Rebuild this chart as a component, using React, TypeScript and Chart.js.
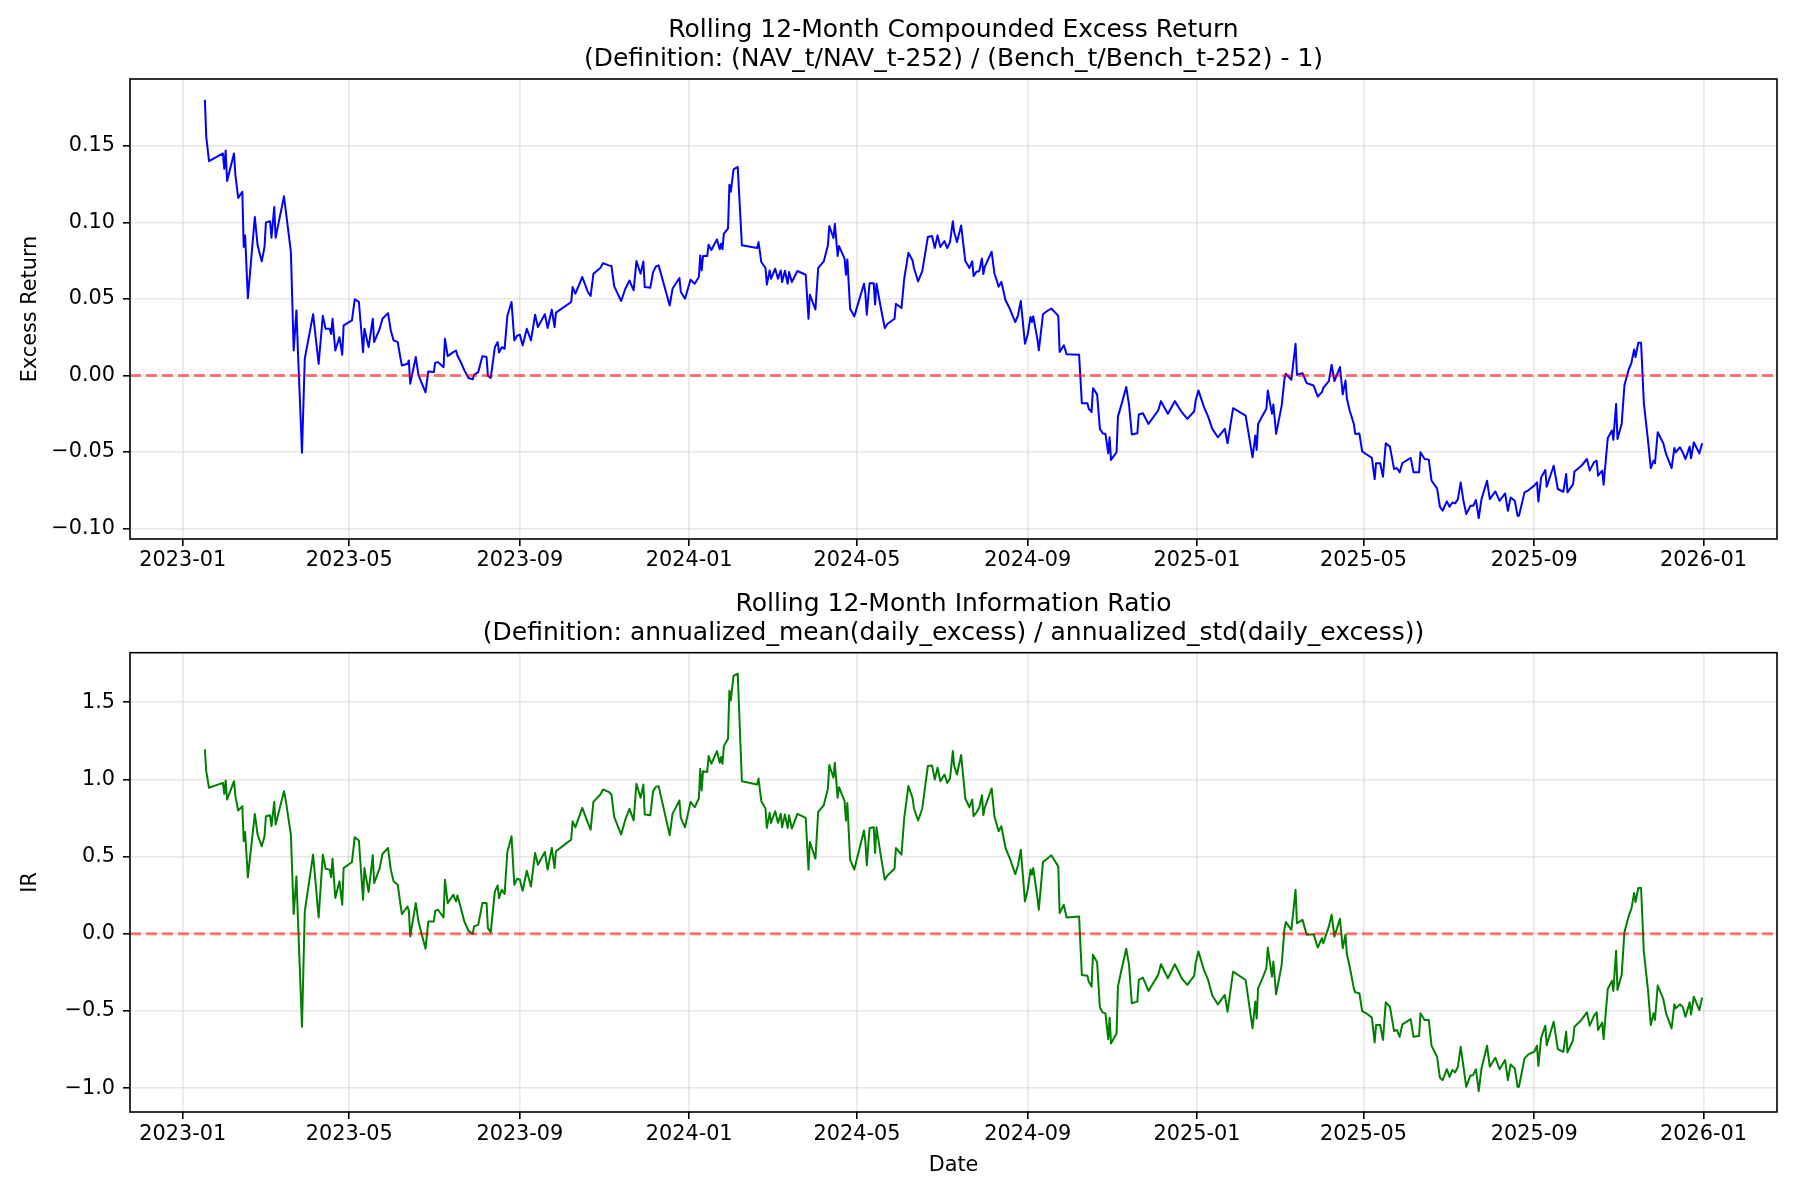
import React, { useEffect, useRef } from 'react';
import { Chart, registerables } from 'chart.js';

Chart.register(...registerables);

// trading dates shared by both rolling series
const dates = [
  '2023-01-17', '2023-01-18', '2023-01-20', '2023-01-30', '2023-01-31',
  '2023-02-01', '2023-02-02', '2023-02-07', '2023-02-08', '2023-02-10', '2023-02-13', '2023-02-14', '2023-02-15', '2023-02-17', '2023-02-22', '2023-02-24', '2023-02-27',
  '2023-03-01', '2023-03-02', '2023-03-05', '2023-03-06', '2023-03-08', '2023-03-09', '2023-03-15', '2023-03-16', '2023-03-20', '2023-03-22', '2023-03-24', '2023-03-25', '2023-03-28', '2023-03-30',
  '2023-04-05', '2023-04-09', '2023-04-12', '2023-04-14', '2023-04-17', '2023-04-18', '2023-04-19', '2023-04-21', '2023-04-24', '2023-04-26', '2023-04-27',
  '2023-05-03', '2023-05-05', '2023-05-08', '2023-05-11', '2023-05-12', '2023-05-15', '2023-05-18', '2023-05-19', '2023-05-23', '2023-05-25', '2023-05-29', '2023-05-31',
  '2023-06-02', '2023-06-05', '2023-06-07', '2023-06-08', '2023-06-12', '2023-06-13', '2023-06-14', '2023-06-18', '2023-06-20', '2023-06-25', '2023-06-27',
  '2023-07-01', '2023-07-02', '2023-07-04', '2023-07-08', '2023-07-09', '2023-07-11', '2023-07-15', '2023-07-17', '2023-07-18', '2023-07-21', '2023-07-23', '2023-07-26', '2023-07-29', '2023-07-30',
  '2023-08-02', '2023-08-05', '2023-08-08', '2023-08-09', '2023-08-11', '2023-08-14', '2023-08-16', '2023-08-17', '2023-08-19', '2023-08-21', '2023-08-23', '2023-08-26', '2023-08-28', '2023-08-30',
  '2023-09-01', '2023-09-03', '2023-09-06', '2023-09-09', '2023-09-12', '2023-09-14', '2023-09-19', '2023-09-21', '2023-09-24', '2023-09-26', '2023-09-27',
  '2023-10-08', '2023-10-09', '2023-10-11', '2023-10-16', '2023-10-20', '2023-10-22', '2023-10-24', '2023-10-29', '2023-10-31',
  '2023-11-04', '2023-11-06', '2023-11-08', '2023-11-13', '2023-11-16', '2023-11-19', '2023-11-22', '2023-11-24', '2023-11-27', '2023-11-29', '2023-11-30',
  '2023-12-04', '2023-12-06', '2023-12-08', '2023-12-10', '2023-12-18', '2023-12-20', '2023-12-25', '2023-12-26', '2023-12-29',
  '2024-01-02', '2024-01-05', '2024-01-08', '2024-01-09', '2024-01-10', '2024-01-11', '2024-01-14', '2024-01-15', '2024-01-17', '2024-01-21', '2024-01-23', '2024-01-24', '2024-01-25', '2024-01-26', '2024-01-29', '2024-01-30', '2024-01-31',
  '2024-02-02', '2024-02-05', '2024-02-08', '2024-02-19', '2024-02-20', '2024-02-22', '2024-02-25', '2024-02-26', '2024-02-28', '2024-02-29',
  '2024-03-03', '2024-03-05', '2024-03-07', '2024-03-08', '2024-03-10', '2024-03-12', '2024-03-13', '2024-03-15', '2024-03-19', '2024-03-25', '2024-03-27', '2024-03-28',
  '2024-04-01', '2024-04-03', '2024-04-07', '2024-04-10', '2024-04-11', '2024-04-14', '2024-04-15', '2024-04-17', '2024-04-18', '2024-04-22', '2024-04-23', '2024-04-24', '2024-04-26', '2024-04-29',
  '2024-05-06', '2024-05-07', '2024-05-08', '2024-05-10', '2024-05-13', '2024-05-14', '2024-05-15', '2024-05-18', '2024-05-21', '2024-05-23', '2024-05-28', '2024-05-29',
  '2024-06-02', '2024-06-04', '2024-06-07', '2024-06-10', '2024-06-11', '2024-06-14', '2024-06-17', '2024-06-21', '2024-06-24', '2024-06-26', '2024-06-28', '2024-06-30',
  '2024-07-03', '2024-07-05', '2024-07-07', '2024-07-09', '2024-07-10', '2024-07-12', '2024-07-15', '2024-07-18', '2024-07-21', '2024-07-23', '2024-07-24', '2024-07-26', '2024-07-28', '2024-07-30', '2024-07-31',
  '2024-08-01', '2024-08-06', '2024-08-08', '2024-08-10', '2024-08-11', '2024-08-13', '2024-08-16', '2024-08-19', '2024-08-23', '2024-08-25', '2024-08-27', '2024-08-30',
  '2024-09-01', '2024-09-03', '2024-09-04', '2024-09-05', '2024-09-08', '2024-09-09', '2024-09-12', '2024-09-15', '2024-09-18', '2024-09-23', '2024-09-24', '2024-09-27', '2024-09-29',
  '2024-10-08', '2024-10-10', '2024-10-14', '2024-10-15', '2024-10-17', '2024-10-18', '2024-10-21', '2024-10-23', '2024-10-25', '2024-10-27', '2024-10-29', '2024-10-30', '2024-10-31',
  '2024-11-04', '2024-11-05', '2024-11-07', '2024-11-11', '2024-11-13', '2024-11-15', '2024-11-19', '2024-11-20', '2024-11-23', '2024-11-27',
  '2024-12-04', '2024-12-06', '2024-12-11', '2024-12-16', '2024-12-21', '2024-12-25', '2024-12-30', '2024-12-31',
  '2025-01-02', '2025-01-06', '2025-01-09', '2025-01-12', '2025-01-16', '2025-01-21', '2025-01-23', '2025-01-27',
  '2025-02-05', '2025-02-10', '2025-02-12', '2025-02-13', '2025-02-14', '2025-02-17', '2025-02-20', '2025-02-21', '2025-02-24', '2025-02-25', '2025-02-27',
  '2025-03-03', '2025-03-05', '2025-03-06', '2025-03-10', '2025-03-13', '2025-03-14', '2025-03-18', '2025-03-21', '2025-03-26', '2025-03-29',
  '2025-04-01', '2025-04-02', '2025-04-06', '2025-04-08', '2025-04-10', '2025-04-14', '2025-04-16', '2025-04-18', '2025-04-19', '2025-04-21', '2025-04-24', '2025-04-25', '2025-04-28', '2025-04-30',
  '2025-05-03', '2025-05-07', '2025-05-09', '2025-05-10', '2025-05-13', '2025-05-15', '2025-05-17', '2025-05-20', '2025-05-23', '2025-05-25', '2025-05-27', '2025-05-29',
  '2025-06-04', '2025-06-06', '2025-06-10', '2025-06-11', '2025-06-14', '2025-06-17', '2025-06-19', '2025-06-23', '2025-06-25', '2025-06-27', '2025-06-30',
  '2025-07-02', '2025-07-04', '2025-07-06', '2025-07-08', '2025-07-10', '2025-07-12', '2025-07-14', '2025-07-17', '2025-07-19', '2025-07-21', '2025-07-23', '2025-07-25', '2025-07-29', '2025-07-31',
  '2025-08-04', '2025-08-07', '2025-08-11', '2025-08-13', '2025-08-15', '2025-08-18', '2025-08-20', '2025-08-21', '2025-08-25', '2025-08-28',
  '2025-09-01', '2025-09-03', '2025-09-04', '2025-09-06', '2025-09-09', '2025-09-10', '2025-09-15', '2025-09-18', '2025-09-22', '2025-09-24', '2025-09-25', '2025-09-29', '2025-09-30',
  '2025-10-05', '2025-10-09', '2025-10-11', '2025-10-14', '2025-10-16', '2025-10-17', '2025-10-20', '2025-10-21', '2025-10-24', '2025-10-27', '2025-10-28', '2025-10-30', '2025-10-31',
  '2025-11-03', '2025-11-05', '2025-11-08', '2025-11-10', '2025-11-12', '2025-11-13', '2025-11-15', '2025-11-17', '2025-11-19', '2025-11-22', '2025-11-24', '2025-11-26', '2025-11-27', '2025-11-29',
  '2025-12-03', '2025-12-05', '2025-12-09', '2025-12-11', '2025-12-12', '2025-12-15', '2025-12-17', '2025-12-19', '2025-12-22', '2025-12-23', '2025-12-25', '2025-12-29', '2025-12-31',
];

// (NAV_t/NAV_t-252) / (Bench_t/Bench_t-252) - 1
const excessReturn = [
  0.180, 0.156, 0.140, 0.145, 0.135,
  0.147, 0.127, 0.145, 0.131, 0.116, 0.120, 0.084, 0.0915, 0.0505, 0.1035, 0.085, 0.0745,
  0.084, 0.100, 0.1007, 0.090, 0.110, 0.090, 0.117, 0.110, 0.0806, 0.0163, 0.0425, 0.0174, -0.0505, 0.011,
  0.040, 0.0076, 0.039, 0.0305, 0.0305, 0.027, 0.037, 0.0163, 0.025, 0.0135, 0.0327,
  0.036, 0.0497, 0.048, 0.0152, 0.0305, 0.0185, 0.037, 0.0218, 0.0305, 0.037, 0.0407, 0.0294,
  0.0229, 0.0218, 0.011, 0.0065, 0.0076, 0.0098, -0.0054, 0.012, 0.0, -0.011, 0.0026,
  0.0022, 0.0083, 0.0087, 0.0054, 0.024, 0.0126, 0.0152, 0.0163, 0.013, 0.0076, 0.0033, -0.0017, -0.0026, 0.0004,
  0.0022, 0.0126, 0.012, -0.0004, -0.0017, 0.0185, 0.0218, 0.015, 0.0185, 0.0174, 0.039, 0.048, 0.0229, 0.026,
  0.0266, 0.0196, 0.0305, 0.0229, 0.0397, 0.0316, 0.040, 0.031, 0.043, 0.0316, 0.041,
  0.048, 0.0577, 0.0534, 0.0643, 0.0545, 0.0519, 0.0664, 0.0702, 0.0734,
  0.0719, 0.0715, 0.0582, 0.0486, 0.0566, 0.062, 0.0556, 0.0747, 0.0664, 0.0745, 0.0577,
  0.0573, 0.0675, 0.0712, 0.0719, 0.0457, 0.0566, 0.0636, 0.0545, 0.0501,
  0.0625, 0.0599, 0.0643, 0.0784, 0.0686, 0.078, 0.078, 0.0854, 0.082, 0.0889, 0.0824, 0.086, 0.0824, 0.0926, 0.0959, 0.1246, 0.120,
  0.1346, 0.1362, 0.085, 0.0832, 0.0871, 0.0741, 0.0702, 0.0593, 0.0686, 0.0632,
  0.0697, 0.0632, 0.0686, 0.061, 0.0684, 0.0599, 0.0675, 0.061, 0.0682, 0.0658, 0.037, 0.0527,
  0.0431, 0.0702, 0.0745, 0.085, 0.0976, 0.0898, 0.0991, 0.078, 0.0845, 0.0763, 0.0658, 0.0758, 0.0436, 0.0386,
  0.0599, 0.0534, 0.0397, 0.0603, 0.0603, 0.0464, 0.0599, 0.0447, 0.0309, 0.0338, 0.037, 0.0468,
  0.044, 0.0632, 0.0802, 0.0751, 0.0702, 0.0614, 0.0682, 0.0904, 0.0911, 0.0832, 0.0915, 0.0839,
  0.0878, 0.0832, 0.0871, 0.1007, 0.0937, 0.0871, 0.098, 0.0747, 0.0702, 0.0745, 0.0649, 0.0677, 0.0681, 0.0764, 0.0662,
  0.0709, 0.0808, 0.0666, 0.0611, 0.0579, 0.0611, 0.0491, 0.0437, 0.0349, 0.0393, 0.0487, 0.0207,
  0.0269, 0.0382, 0.0349, 0.0386, 0.0234, 0.0164, 0.040, 0.0421, 0.0437, 0.0389, 0.0153, 0.0197, 0.0138,
  0.0135, -0.0181, -0.0181, -0.0218, -0.024, -0.0083, -0.0124, -0.0349, -0.0378, -0.0382, -0.0509, -0.0404, -0.0552,
  -0.0502, -0.0269, -0.0207, -0.0076, -0.0192, -0.0386, -0.0378, -0.0255, -0.0247, -0.0317,
  -0.0229, -0.0168, -0.0251, -0.0168, -0.024, -0.0284, -0.0234, -0.0164,
  -0.0098, -0.0207, -0.0269, -0.0349, -0.0404, -0.0349, -0.0443, -0.0214,
  -0.0262, -0.0535, -0.0393, -0.0486, -0.0317, -0.0266, -0.0218, -0.0098, -0.0251, -0.019, -0.0382,
  -0.0197, -0.0022, 0.0011, -0.0028, 0.0207, 0.0004, 0.0015, -0.005, -0.0066, -0.0138,
  -0.0109, -0.0081, -0.0037, 0.007, -0.0037, 0.0055, -0.0124, -0.0033, -0.0153, -0.0229, -0.0317, -0.0382, -0.038, -0.0496,
  -0.0515, -0.0539, -0.0677, -0.0574, -0.0574, -0.0662, -0.0443, -0.0465, -0.0611, -0.0605, -0.0633, -0.0572,
  -0.0539, -0.0633, -0.0633, -0.0502, -0.0546, -0.055, -0.0688, -0.0738, -0.0858, -0.0884, -0.0823,
  -0.0858, -0.083, -0.0836, -0.0808, -0.0699, -0.0819, -0.0906, -0.0852, -0.0852, -0.0814, -0.0932, -0.0808, -0.0688, -0.0808,
  -0.0758, -0.0819, -0.0771, -0.0884, -0.0797, -0.0819, -0.0917, -0.0917, -0.0764, -0.0749,
  -0.072, -0.0699, -0.0823, -0.0666, -0.0618, -0.0727, -0.059, -0.0742, -0.076, -0.0644, -0.0764, -0.071, -0.0627,
  -0.059, -0.0546, -0.0622, -0.0568, -0.0557, -0.0655, -0.0622, -0.0714, -0.0408, -0.036, -0.0421, -0.0186, -0.0415,
  -0.0317, -0.0066, 0.0037, 0.0081, 0.017, 0.012, 0.0214, 0.0214, -0.0181, -0.0426, -0.0605, -0.0557, -0.0574, -0.0371,
  -0.0443, -0.0513, -0.0605, -0.0474, -0.0502, -0.0469, -0.0502, -0.0546, -0.0465, -0.0541, -0.0437, -0.0509, -0.0443,
];

// annualized_mean(daily_excess) / annualized_std(daily_excess)
const infoRatio = [
  1.195, 1.054, 0.946, 0.978, 0.907,
  0.994, 0.870, 0.989, 0.892, 0.799, 0.827, 0.600, 0.660, 0.366, 0.777, 0.643, 0.567,
  0.632, 0.762, 0.768, 0.697, 0.855, 0.708, 0.924, 0.881, 0.643, 0.128, 0.372, 0.113, -0.602, 0.145,
  0.513, 0.106, 0.513, 0.422, 0.416, 0.366, 0.487, 0.232, 0.340, 0.188, 0.426,
  0.465, 0.626, 0.604, 0.221, 0.426, 0.271, 0.509, 0.329, 0.426, 0.517, 0.556, 0.416,
  0.340, 0.318, 0.188, 0.128, 0.177, 0.149, -0.017, 0.199, 0.076, -0.097, 0.080,
  0.080, 0.149, 0.156, 0.106, 0.351, 0.199, 0.253, 0.210, 0.249, 0.149, 0.080, 0.019, 0.000, 0.048,
  0.058, 0.199, 0.199, 0.037, 0.011, 0.275, 0.314, 0.232, 0.286, 0.258, 0.530, 0.632, 0.318, 0.357,
  0.351, 0.279, 0.409, 0.307, 0.524, 0.448, 0.530, 0.416, 0.556, 0.426, 0.535,
  0.610, 0.729, 0.690, 0.816, 0.719, 0.675, 0.855, 0.903, 0.935,
  0.920, 0.903, 0.758, 0.643, 0.740, 0.810, 0.734, 0.972, 0.881, 0.968, 0.773,
  0.768, 0.924, 0.952, 0.957, 0.639, 0.777, 0.864, 0.751, 0.690,
  0.855, 0.820, 0.877, 1.069, 0.929, 1.054, 1.048, 1.152, 1.102, 1.184, 1.108, 1.145, 1.102, 1.216, 1.264, 1.574, 1.513,
  1.671, 1.686, 0.989, 0.968, 1.006, 0.859, 0.812, 0.686, 0.784, 0.719,
  0.794, 0.719, 0.777, 0.690, 0.773, 0.686, 0.768, 0.682, 0.777, 0.751, 0.416, 0.595,
  0.487, 0.790, 0.833, 0.942, 1.093, 1.011, 1.108, 0.881, 0.950, 0.859, 0.734, 0.848, 0.481, 0.416,
  0.669, 0.595, 0.444, 0.686, 0.690, 0.524, 0.690, 0.513, 0.351, 0.379, 0.422, 0.556,
  0.513, 0.751, 0.957, 0.881, 0.812, 0.734, 0.812, 1.087, 1.091, 1.000, 1.076, 0.989,
  1.032, 0.978, 1.006, 1.184, 1.087, 1.032, 1.158, 0.877, 0.820, 0.870, 0.762, 0.786, 0.816, 0.898, 0.768,
  0.816, 0.942, 0.762, 0.697, 0.665, 0.697, 0.556, 0.491, 0.387, 0.444, 0.545, 0.210,
  0.286, 0.416, 0.383, 0.426, 0.232, 0.156, 0.465, 0.487, 0.509, 0.437, 0.134, 0.188, 0.106,
  0.113, -0.266, -0.271, -0.310, -0.342, -0.136, -0.184, -0.478, -0.509, -0.515, -0.682, -0.543, -0.710,
  -0.645, -0.342, -0.255, -0.097, -0.201, -0.450, -0.439, -0.299, -0.284, -0.370,
  -0.266, -0.197, -0.288, -0.197, -0.288, -0.331, -0.271, -0.190,
  -0.115, -0.234, -0.299, -0.400, -0.457, -0.396, -0.504, -0.245,
  -0.299, -0.613, -0.439, -0.548, -0.353, -0.292, -0.223, -0.089, -0.277, -0.180, -0.392,
  -0.201, 0.032, 0.076, 0.026, 0.286, 0.069, 0.091, -0.006, -0.002, -0.089,
  -0.028, -0.061, 0.048, 0.123, -0.017, 0.097, -0.093, -0.006, -0.132, -0.212, -0.353, -0.379, -0.385, -0.500,
  -0.515, -0.543, -0.703, -0.591, -0.591, -0.688, -0.444, -0.472, -0.630, -0.623, -0.667, -0.586,
  -0.552, -0.667, -0.662, -0.515, -0.558, -0.558, -0.725, -0.797, -0.931, -0.948, -0.877,
  -0.927, -0.883, -0.898, -0.861, -0.732, -0.861, -0.991, -0.919, -0.914, -0.877, -1.019, -0.872, -0.725, -0.861,
  -0.803, -0.877, -0.818, -0.948, -0.846, -0.872, -0.991, -0.991, -0.807, -0.779,
  -0.764, -0.725, -0.855, -0.673, -0.595, -0.721, -0.569, -0.747, -0.764, -0.634, -0.768, -0.688, -0.602,
  -0.558, -0.509, -0.595, -0.532, -0.509, -0.623, -0.574, -0.682, -0.357, -0.305, -0.370, -0.110, -0.364,
  -0.266, 0.011, 0.113, 0.162, 0.264, 0.206, 0.297, 0.297, -0.119, -0.364, -0.591, -0.515, -0.558, -0.335,
  -0.422, -0.515, -0.613, -0.457, -0.483, -0.457, -0.472, -0.537, -0.444, -0.522, -0.407, -0.494, -0.413,
];

const xTickLabels = ['2023-01', '2023-05', '2023-09', '2024-01', '2024-05', '2024-09', '2025-01', '2025-05', '2025-09', '2026-01'];
const excessTicks = [-0.10, -0.05, 0, 0.05, 0.10, 0.15];
const irTicks = [-1.0, -0.5, 0, 0.5, 1.0, 1.5];

const FONT = 'DejaVu Sans';
const DAY_MS = 86400000;
const ORIGIN = Date.parse('2023-01-01');
const toDay = (d: string) => (Date.parse(d) - ORIGIN) / DAY_MS;
const fmtMinus = (s: string) => s.replace('-', '\u2212');

const xDays = dates.map(toDay);
const xLo = Math.min(...xDays);
const xHi = Math.max(...xDays);
const xMargin = (xHi - xLo) * 0.05; // matplotlib default margins

// draws the 4-sided axes box like matplotlib spines
const framePlugin = {
  id: 'frame',
  afterDatasetsDraw(chart: any) {
    const { ctx, chartArea: a } = chart;
    ctx.save();
    ctx.strokeStyle = '#000';
    ctx.lineWidth = 1.6;
    ctx.strokeRect(a.left, a.top, a.right - a.left, a.bottom - a.top);
    ctx.restore();
  },
};

interface RollingChartProps {
  values: number[];
  color: string;
  title: string[];
  yLabel: string;
  yTicks: number[];
  decimals: number;
  height: number;
  titlePadding: { top: number; bottom: number };
  xAxisHeight: number;
  tickPadding: number;
  xLabel?: string;
}

const RollingChart: React.FC<RollingChartProps> = ({
  values, color, title, yLabel, yTicks, decimals, height, titlePadding, xAxisHeight, tickPadding, xLabel,
}) => {
  const canvasRef = useRef<HTMLCanvasElement>(null);

  useEffect(() => {
    if (!canvasRef.current) return;
    const lo = Math.min(...values);
    const hi = Math.max(...values);
    const yMargin = (hi - lo) * 0.05;
    const gridColor = 'rgba(176,176,176,0.3)';

    const chart = new Chart(canvasRef.current, {
      type: 'line',
      data: {
        datasets: [
          {
            // zero reference line (axhline)
            data: [{ x: xLo - xMargin, y: 0 }, { x: xHi + xMargin, y: 0 }],
            borderColor: 'rgba(255,0,0,0.5)',
            borderWidth: 3,
            borderDash: [11, 5],
            pointRadius: 0,
          },
          {
            data: xDays.map((x, i) => ({ x, y: values[i] })),
            borderColor: color,
            borderWidth: 2,
            borderJoinStyle: 'round',
            pointRadius: 0,
            tension: 0,
          },
        ],
      },
      options: {
        animation: false,
        responsive: false,
        events: [],
        layout: { padding: { left: 0, right: 23, top: 0, bottom: 0 } },
        plugins: {
          legend: { display: false },
          tooltip: { enabled: false },
          title: {
            display: true,
            text: title,
            fullSize: false,
            color: '#000',
            font: { family: FONT, size: 25, weight: 'normal', lineHeight: 1.15 },
            padding: titlePadding,
          },
        },
        scales: {
          x: {
            type: 'linear',
            min: xLo - xMargin,
            max: xHi + xMargin,
            afterBuildTicks: (scale: any) => {
              scale.ticks = xTickLabels.map((t) => ({ value: toDay(`${t}-01`) }));
            },
            afterFit: (scale: any) => {
              scale.height = xAxisHeight;
            },
            ticks: {
              autoSkip: false,
              maxRotation: 0,
              color: '#000',
              padding: tickPadding,
              font: { family: FONT, size: 20.8 },
              callback: (v: any) => new Date(ORIGIN + Number(v) * DAY_MS).toISOString().slice(0, 7),
            },
            grid: { color: gridColor, lineWidth: 1.6, tickColor: '#000', tickLength: 7, tickWidth: 1.6 },
            border: { display: false },
            title: {
              display: !!xLabel,
              text: xLabel || '',
              color: '#000',
              font: { family: FONT, size: 20.8 },
              padding: { top: 0, bottom: 22 },
            },
          },
          y: {
            type: 'linear',
            min: lo - yMargin,
            max: hi + yMargin,
            afterBuildTicks: (scale: any) => {
              scale.ticks = yTicks.map((value) => ({ value }));
            },
            afterFit: (scale: any) => {
              scale.width = 130;
            },
            ticks: {
              color: '#000',
              padding: 8,
              font: { family: FONT, size: 20.8 },
              callback: (v: any) => fmtMinus(Number(v).toFixed(decimals)),
            },
            grid: { color: gridColor, lineWidth: 1.6, tickColor: '#000', tickLength: 7, tickWidth: 1.6 },
            border: { display: false },
            title: {
              display: true,
              text: yLabel,
              color: '#000',
              font: { family: FONT, size: 20.8 },
              padding: { top: 18, bottom: 0 },
            },
          },
        },
      } as any,
      plugins: [framePlugin],
    });

    return () => chart.destroy();
  }, [values, color, title, yLabel, yTicks, decimals, height, titlePadding, xAxisHeight, tickPadding, xLabel]);

  return <canvas ref={canvasRef} width={1800} height={height} style={{ display: 'block', width: 1800, height }} />;
};

const topTitle = ['Rolling 12-Month Compounded Excess Return', '(Definition: (NAV_t/NAV_t-252) / (Bench_t/Bench_t-252) - 1)'];
const bottomTitle = ['Rolling 12-Month Information Ratio', '(Definition: annualized_mean(daily_excess) / annualized_std(daily_excess))'];
const topPad = { top: 16.6, bottom: 4.9 };
const bottomPad = { top: 0.3, bottom: 4.9 };

export default function App() {
  return (
    <div style={{ position: 'absolute', left: 0, top: 0, width: 1800, height: 1200, background: '#fff' }}>
      <div style={{ position: 'absolute', left: 0, top: 0 }}>
        <RollingChart
          values={excessReturn}
          color="#0000ff"
          title={topTitle}
          yLabel="Excess Return"
          yTicks={excessTicks}
          decimals={2}
          height={590}
          titlePadding={topPad}
          xAxisHeight={51}
          tickPadding={2}
        />
      </div>
      <div style={{ position: 'absolute', left: 0, top: 590 }}>
        <RollingChart
          values={infoRatio}
          color="#008000"
          title={bottomTitle}
          yLabel="IR"
          yTicks={irTicks}
          decimals={1}
          height={610}
          titlePadding={bottomPad}
          xAxisHeight={88}
          tickPadding={3}
          xLabel="Date"
        />
      </div>
    </div>
  );
}
